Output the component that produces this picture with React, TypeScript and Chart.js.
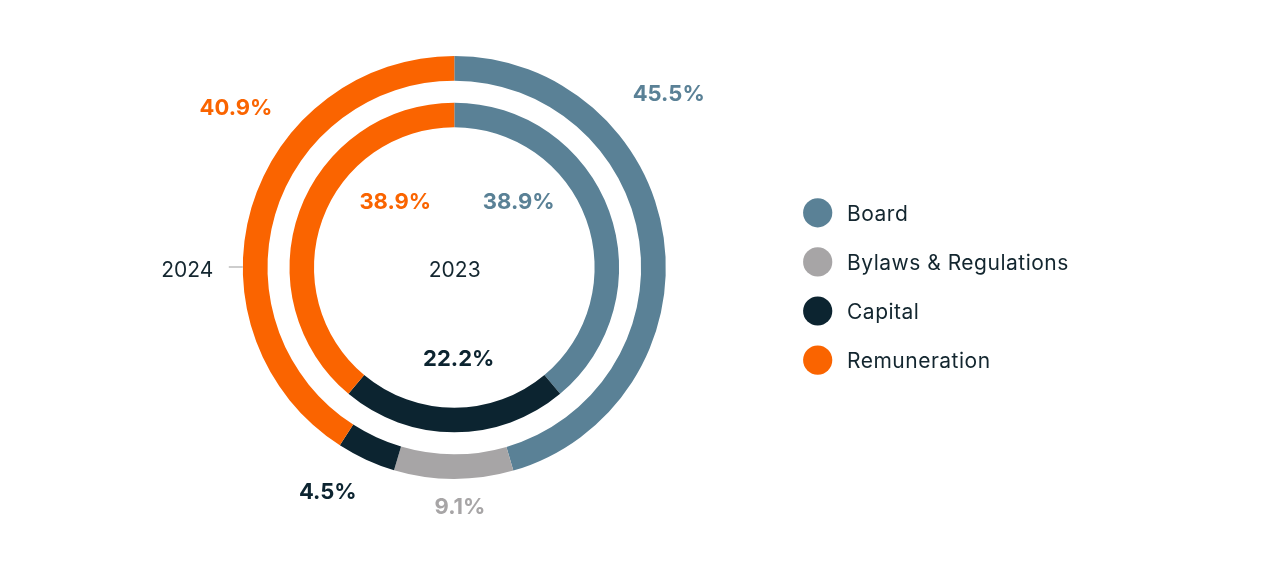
import React, { useEffect, useRef } from "react";
import { Chart, registerables } from "chart.js";

Chart.register(...registerables);

const categories = ["Board", "Bylaws & Regulations", "Capital", "Remuneration"];
const values2024 = [45.5, 9.1, 4.5, 40.9];
const values2023 = [38.9, 0, 22.2, 38.9];
const ringLabels = ["2024", "2023"];
const colors = ["#5A8196", "#A7A5A6", "#0C2430", "#FA6400"];

// label anchor offsets from the doughnut centre (annotation placement)
const outerLabelOffsets = [
  [214.4, -174.2],
  [5.7, 238.8],
  [-126.5, 223.8],
  [-218.3, -161],
];
const innerLabelOffsets = [
  [64.4, -66.2],
  [0, 0],
  [4.4, 90.3],
  [-59, -66.2],
];

const FONT = "Inter, 'Noto Sans', sans-serif";
const TEXT_DARK = "#13262F";

const labelPlugin = {
  id: "customLabels",
  afterDraw(chart: any) {
    const ctx = chart.ctx;
    const meta0 = chart.getDatasetMeta(0);
    const arc = meta0.data[0];
    if (!arc) return;
    const cx = arc.x;
    const cy = arc.y;
    const outerR = arc.outerRadius;
    ctx.save();
    // percentage labels
    ctx.font = `700 22px ${FONT}`;
    ctx.textAlign = "center";
    ctx.textBaseline = "alphabetic";
    const drawSet = (vals: number[], offs: number[][]) => {
      vals.forEach((v, i) => {
        if (!v) return;
        ctx.fillStyle = colors[i];
        ctx.fillText(`${v.toFixed(1)}%`, cx + offs[i][0], cy + offs[i][1] + 8);
      });
    };
    drawSet(values2024, outerLabelOffsets);
    drawSet(values2023, innerLabelOffsets);

    // ring names
    ctx.font = `400 21px ${FONT}`;
    ctx.fillStyle = TEXT_DARK;
    ctx.fillText(ringLabels[1], cx + 0.4, cy + 9.2);
    ctx.textAlign = "right";
    ctx.fillText(ringLabels[0], cx - outerR - 29.5, cy + 9.2);
    ctx.strokeStyle = "#BDBDBD";
    ctx.lineWidth = 1.5;
    ctx.beginPath();
    ctx.moveTo(cx - outerR - 14, cy - 0.5);
    ctx.lineTo(cx - outerR, cy - 0.5);
    ctx.stroke();

    // legend
    const lx = 817.7;
    const ly0 = 212.8;
    const step = 49.1;
    ctx.textAlign = "left";
    ctx.font = `400 21px ${FONT}`;
    (ctx as any).letterSpacing = "0.5px";
    categories.forEach((c, i) => {
      const y = ly0 + i * step;
      ctx.fillStyle = colors[i];
      ctx.beginPath();
      ctx.arc(lx, y, 14.6, 0, Math.PI * 2);
      ctx.fill();
      ctx.fillStyle = TEXT_DARK;
      ctx.fillText(c, 847, y + 7.8);
    });
    (ctx as any).letterSpacing = "0px";
    ctx.restore();
  },
};

export default function App() {
  const ref = useRef<HTMLCanvasElement | null>(null);
  useEffect(() => {
    document.body.style.margin = "0";
    if (!ref.current) return;
    const chart = new Chart(ref.current, {
      type: "doughnut",
      data: {
        labels: categories,
        datasets: [
          {
            label: ringLabels[0],
            data: values2024,
            backgroundColor: colors,
            borderWidth: 0,
            weight: 24.7,
          } as any,
          {
            label: "spacer",
            data: [1],
            backgroundColor: ["rgba(0,0,0,0)"],
            borderWidth: 0,
            weight: 22,
          } as any,
          {
            label: ringLabels[1],
            data: values2023,
            backgroundColor: colors,
            borderWidth: 0,
            weight: 24.5,
          } as any,
        ],
      },
      options: {
        animation: false,
        responsive: true,
        maintainAspectRatio: false,
        cutout: "66.34%",
        rotation: 0,
        layout: {
          padding: { left: 242.8, right: 614.2, top: 56, bottom: 93 },
        },
        plugins: {
          legend: { display: false },
          tooltip: { enabled: false },
        },
        events: [],
      },
      plugins: [labelPlugin],
    });
    return () => chart.destroy();
  }, []);
  return (
    <div style={{ position: "fixed", left: 0, top: 0, width: 1280, height: 572, background: "#fff" }}>
      <canvas ref={ref} />
    </div>
  );
}
